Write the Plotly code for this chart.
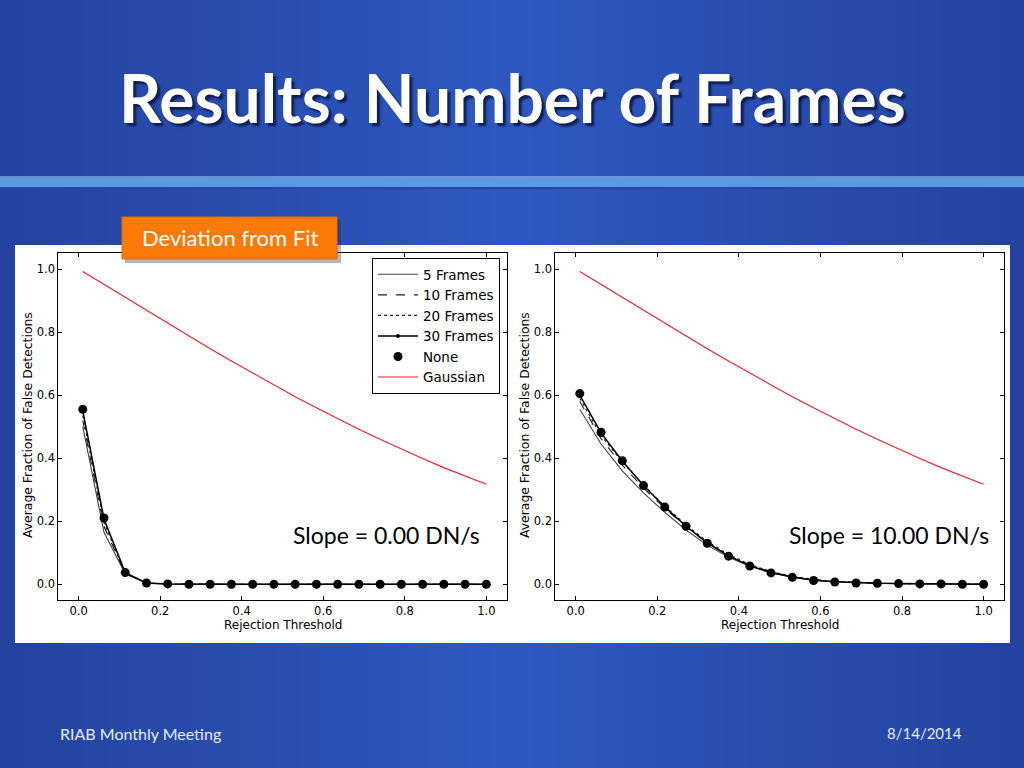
import plotly.graph_objects as go

W, H = 1024, 768

# ---------------- data ----------------
thresholds = [0.01, 0.0621, 0.1142, 0.1663, 0.2184, 0.2705, 0.3226, 0.3747, 0.4268, 0.4789,
              0.5311, 0.5832, 0.6353, 0.6874, 0.7395, 0.7916, 0.8437, 0.8958, 0.9479, 1.0]

gaussian = [0.992, 0.951, 0.909, 0.868, 0.827, 0.787, 0.747, 0.708, 0.670, 0.632,
            0.595, 0.560, 0.525, 0.492, 0.460, 0.429, 0.399, 0.370, 0.343, 0.317]

# slope = 0.00 DN/s
s0_5 = [0.500, 0.165, 0.033, 0.003, 0.001, 0.0, 0.0, 0.0, 0.0, 0.0,
        0.0, 0.0, 0.0, 0.0, 0.0, 0.0, 0.0, 0.0, 0.0, 0.0]
s0_10 = [0.520, 0.183, 0.035, 0.003, 0.001, 0.0, 0.0, 0.0, 0.0, 0.0,
         0.0, 0.0, 0.0, 0.0, 0.0, 0.0, 0.0, 0.0, 0.0, 0.0]
s0_20 = [0.535, 0.195, 0.036, 0.004, 0.001, 0.0, 0.0, 0.0, 0.0, 0.0,
         0.0, 0.0, 0.0, 0.0, 0.0, 0.0, 0.0, 0.0, 0.0, 0.0]
s0_30 = [0.550, 0.207, 0.037, 0.004, 0.001, 0.0, 0.0, 0.0, 0.0, 0.0,
         0.0, 0.0, 0.0, 0.0, 0.0, 0.0, 0.0, 0.0, 0.0, 0.0]
s0_none = [0.555, 0.210, 0.037, 0.004, 0.001, 0.0, 0.0, 0.0, 0.0, 0.0,
           0.0, 0.0, 0.0, 0.0, 0.0, 0.0, 0.0, 0.0, 0.0, 0.0]

# slope = 10.00 DN/s
s10_5 = [0.555, 0.445, 0.360, 0.290, 0.228, 0.172, 0.124, 0.086, 0.057, 0.036,
         0.022, 0.013, 0.008, 0.005, 0.003, 0.002, 0.001, 0.001, 0.0, 0.0]
s10_10 = [0.580, 0.462, 0.378, 0.305, 0.241, 0.182, 0.131, 0.091, 0.061, 0.039,
          0.024, 0.014, 0.009, 0.005, 0.003, 0.002, 0.001, 0.001, 0.0, 0.0]
s10_20 = [0.590, 0.472, 0.388, 0.314, 0.248, 0.188, 0.136, 0.094, 0.063, 0.040,
          0.025, 0.015, 0.009, 0.005, 0.003, 0.002, 0.001, 0.001, 0.0, 0.0]
s10_30 = [0.600, 0.480, 0.391, 0.313, 0.245, 0.184, 0.131, 0.090, 0.059, 0.037,
          0.023, 0.013, 0.008, 0.005, 0.003, 0.002, 0.001, 0.001, 0.0, 0.0]
s10_none = [0.605, 0.482, 0.392, 0.313, 0.245, 0.184, 0.130, 0.089, 0.058, 0.036,
            0.022, 0.012, 0.007, 0.004, 0.003, 0.002, 0.001, 0.001, 0.0, 0.0]

tick_vals = [0.0, 0.2, 0.4, 0.6, 0.8, 1.0]
tick_text = ["0.0", "0.2", "0.4", "0.6", "0.8", "1.0"]

title_text = "Results: Number of Frames"
badge_text = "Deviation from Fit"
slope_labels = ["Slope = 0.00 DN/s", "Slope = 10.00 DN/s"]
footer_left = "RIAB Monthly Meeting"
footer_right = "8/14/2014"
x_title = "Rejection Threshold"
y_title = "Average Fraction of False Detections"


def px(x):
    return x / W


def py(y):
    return 1 - y / H


fig = go.Figure()

series_sets = [
    (s0_5, s0_10, s0_20, s0_30, s0_none, "x", "y"),
    (s10_5, s10_10, s10_20, s10_30, s10_none, "x2", "y2"),
]

for i, (a5, a10, a20, a30, anone, xa, ya) in enumerate(series_sets):
    show = i == 0
    fig.add_trace(go.Scatter(x=thresholds, y=a5, mode="lines", name="5 Frames",
                             line=dict(color="#444444", width=1.1), xaxis=xa, yaxis=ya,
                             showlegend=show))
    fig.add_trace(go.Scatter(x=thresholds, y=a10, mode="lines", name="10 Frames",
                             line=dict(color="#222222", width=1.1, dash="dash"), xaxis=xa, yaxis=ya,
                             showlegend=show))
    fig.add_trace(go.Scatter(x=thresholds, y=a20, mode="lines", name="20 Frames",
                             line=dict(color="#222222", width=1.1, dash="dot"), xaxis=xa, yaxis=ya,
                             showlegend=show))
    fig.add_trace(go.Scatter(x=thresholds, y=a30, mode="lines+markers", name="30 Frames",
                             line=dict(color="black", width=1.5),
                             marker=dict(color="black", size=4), xaxis=xa, yaxis=ya,
                             showlegend=show))
    fig.add_trace(go.Scatter(x=thresholds, y=anone, mode="markers", name="None",
                             marker=dict(color="black", size=9), xaxis=xa, yaxis=ya,
                             showlegend=show))
    fig.add_trace(go.Scatter(x=thresholds, y=gaussian, mode="lines", name="Gaussian",
                             line=dict(color="#e8202a", width=1.1), xaxis=xa, yaxis=ya,
                             showlegend=show))

# ---------------- background shapes ----------------
shapes = []
n = 48
edge = (36, 67, 160)
center = (46, 88, 192)
for k in range(n):
    t = (k + 0.5) / n
    f = 1 - abs(t - 0.5) * 2
    c = tuple(int(round(edge[j] + (center[j] - edge[j]) * f)) for j in range(3))
    shapes.append(dict(type="rect", xref="paper", yref="paper",
                       x0=k / n, x1=(k + 1) / n + 0.002, y0=0, y1=1,
                       fillcolor="rgb(%d,%d,%d)" % c, line=dict(width=0), layer="below"))
shapes.append(dict(type="rect", xref="paper", yref="paper", x0=0, x1=1,
                   y0=py(177.5), y1=py(176.5), fillcolor="#b8d4f2", line=dict(width=0), layer="below"))
shapes.append(dict(type="rect", xref="paper", yref="paper", x0=0, x1=1,
                   y0=py(187), y1=py(177.5), fillcolor="#5b99e2", line=dict(width=0), layer="below"))
shapes.append(dict(type="rect", xref="paper", yref="paper", x0=0, x1=1,
                   y0=py(189), y1=py(187), fillcolor="#2847a4", line=dict(width=0), layer="below"))
shapes.append(dict(type="rect", xref="paper", yref="paper", x0=px(15), x1=px(1010),
                   y0=py(643), y1=py(245), fillcolor="white", line=dict(width=0), layer="below"))
shapes.append(dict(type="rect", xref="paper", yref="paper", x0=px(125), x1=px(341),
                   y0=py(263), y1=py(220), fillcolor="rgba(40,40,60,0.35)", line=dict(width=0),
                   layer="above"))
shapes.append(dict(type="rect", xref="paper", yref="paper", x0=px(122), x1=px(337),
                   y0=py(259), y1=py(217), fillcolor="#fc7a08", line=dict(color="#e06a00", width=1),
                   layer="above"))

annotations = []
annotations.append(dict(text="<b>%s</b>" % title_text, x=px(512), y=py(98), xref="paper", yref="paper",
                        showarrow=False,
                        font=dict(family="Lato", size=66, color="white", shadow="3px 3px 2px #0f1f55"),
                        xanchor="center", yanchor="middle"))
annotations.append(dict(text=badge_text, x=px(229.5), y=py(238), xref="paper", yref="paper",
                        showarrow=False, font=dict(family="Lato", size=22, color="white"),
                        xanchor="center", yanchor="middle"))
annotations.append(dict(text=slope_labels[0], x=px(386), y=py(535), xref="paper", yref="paper",
                        showarrow=False, font=dict(family="Lato", size=23, color="black"),
                        xanchor="center", yanchor="middle"))
annotations.append(dict(text=slope_labels[1], x=px(889), y=py(535), xref="paper", yref="paper",
                        showarrow=False, font=dict(family="Lato", size=23, color="black"),
                        xanchor="center", yanchor="middle"))
annotations.append(dict(text=footer_left, x=px(58), y=py(733), xref="paper", yref="paper",
                        showarrow=False, font=dict(family="Lato", size=16, color="#e4ecff"),
                        xanchor="left", yanchor="middle"))
annotations.append(dict(text=footer_right, x=px(964), y=py(733), xref="paper", yref="paper",
                        showarrow=False, font=dict(family="Lato", size=15, color="#e4ecff"),
                        xanchor="right", yanchor="middle"))
for cx in (282.5, 779.5):
    annotations.append(dict(text=x_title, x=px(cx), y=py(625), xref="paper", yref="paper",
                            showarrow=False, font=dict(family="DejaVu Sans", size=12, color="black"),
                            xanchor="center", yanchor="middle"))
for cx in (27, 524):
    annotations.append(dict(text=y_title, x=px(cx), y=py(425), xref="paper", yref="paper",
                            showarrow=False, textangle=-90,
                            font=dict(family="DejaVu Sans", size=12.4, color="black"),
                            xanchor="center", yanchor="middle"))

axis_common = dict(range=[-0.05, 1.05], tickvals=tick_vals, ticktext=tick_text,
                   ticks="inside", ticklen=4, tickcolor="black", tickwidth=1,
                   showline=True, linecolor="black", linewidth=1, mirror="ticks",
                   showgrid=False, zeroline=False,
                   tickfont=dict(family="DejaVu Sans", size=11.5, color="black"))

fig.update_layout(
    width=W, height=H,
    margin=dict(l=0, r=0, t=0, b=0),
    paper_bgcolor="#2a4fae",
    plot_bgcolor="white",
    shapes=shapes,
    annotations=annotations,
    xaxis=dict(domain=[px(58.3), px(506.7)], anchor="y", **axis_common),
    yaxis=dict(domain=[py(600), py(253.3)], anchor="x", **axis_common),
    xaxis2=dict(domain=[px(555.3), px(1004)], anchor="y2", **axis_common),
    yaxis2=dict(domain=[py(600), py(253.3)], anchor="x2", **axis_common),
    legend=dict(x=px(500), y=py(258), xanchor="right", yanchor="top",
                bgcolor="white", bordercolor="black", borderwidth=1,
                font=dict(family="DejaVu Sans", size=13.5, color="black"),
                itemwidth=40, tracegroupgap=0),
    showlegend=True,
)

fig.write_html("out.html", config={"displayModeBar": False},
               post_script="document.body.style.margin='0';document.body.style.overflow='hidden';")
